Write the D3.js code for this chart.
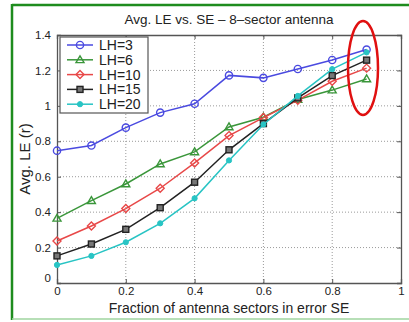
<!DOCTYPE html>
<html>
<head>
<meta charset="utf-8">
<script src="https://cdn.jsdelivr.net/npm/d3@7"></script>
<style>
  html, body { margin: 0; padding: 0; background: #fff; }
  svg { display: block; }
  text { font-family: "Liberation Sans", Arial, sans-serif; fill: #222; }
</style>
</head>
<body>
<svg id="chart" width="409" height="322"></svg>
<script>
// Fraction of antenna sectors in error (x) and average LE per handoff level
const fractions = [0, 0.1, 0.2, 0.3, 0.4, 0.5, 0.6, 0.7, 0.8, 0.9];
const lh3  = [0.747, 0.776, 0.877, 0.962, 1.012, 1.172, 1.158, 1.208, 1.259, 1.318];
const lh6  = [0.365, 0.465, 0.559, 0.672, 0.740, 0.881, 0.936, 1.036, 1.089, 1.152];
const lh10 = [0.237, 0.322, 0.420, 0.535, 0.678, 0.832, 0.934, 1.032, 1.139, 1.213];
const lh15 = [0.153, 0.220, 0.303, 0.425, 0.569, 0.752, 0.900, 1.045, 1.171, 1.258];
const lh20 = [0.102, 0.153, 0.230, 0.337, 0.478, 0.692, 0.895, 1.056, 1.207, 1.302];
const seriesNames = ["LH=3", "LH=6", "LH=10", "LH=15", "LH=20"];
const seriesValues = [lh3, lh6, lh10, lh15, lh20];
const xTicks = [0, 0.2, 0.4, 0.6, 0.8, 1];
const yTicks = [0, 0.2, 0.4, 0.6, 0.8, 1, 1.2, 1.4];

const colors  = ["#4a4ae0", "#3a963a", "#e84848", "#222222", "#28c4c4"];
const markers = ["circle", "triangle", "diamond", "square", "dot"];

const svg = d3.select("#chart");

// outer frame
svg.append("line").attr("x1", 12).attr("x2", 409).attr("y1", 5).attr("y2", 5)
  .attr("stroke", "#1e8c1e").attr("stroke-width", 2.5);
svg.append("line").attr("x1", 12).attr("x2", 12).attr("y1", 4).attr("y2", 320)
  .attr("stroke", "#1e8c1e").attr("stroke-width", 2.5);
svg.append("line").attr("x1", 12).attr("x2", 409).attr("y1", 319).attr("y2", 319)
  .attr("stroke", "#9fd49f").attr("stroke-width", 1.5);

const x = d3.scaleLinear().domain([0, 1]).range([57, 401]);
const y = d3.scaleLinear().domain([0, 1.4]).range([283, 35]);

// dotted grid
const grid = svg.append("g");
grid.selectAll("line.gx").data(xTicks.slice(1, -1)).join("line")
  .attr("x1", d => x(d)).attr("x2", d => x(d)).attr("y1", y(0)).attr("y2", y(1.4))
  .attr("stroke", "#9a9a9a").attr("stroke-width", 1).attr("stroke-dasharray", "1,2");
grid.selectAll("line.gy").data(yTicks.slice(1, -1)).join("line")
  .attr("x1", x(0)).attr("x2", x(1)).attr("y1", d => y(d)).attr("y2", d => y(d))
  .attr("stroke", "#9a9a9a").attr("stroke-width", 1).attr("stroke-dasharray", "1,2");

// axes (ticks pointing inward)
const xAxis = svg.append("g").attr("transform", `translate(0,${y(0)})`)
  .call(d3.axisBottom(x).tickValues(xTicks).tickSize(-4).tickPadding(4)
    .tickFormat(d => d3.format("~g")(d)));
const yAxis = svg.append("g").attr("transform", `translate(${x(0)},0)`)
  .call(d3.axisLeft(y).tickValues(yTicks).tickSize(-4).tickPadding(6)
    .tickFormat(d => d3.format("~g")(d)));
// mirrored ticks on top / right
svg.append("g").attr("transform", `translate(0,${y(1.4)})`)
  .call(d3.axisTop(x).tickValues(xTicks).tickSize(-4).tickFormat(""));
svg.append("g").attr("transform", `translate(${x(1)},0)`)
  .call(d3.axisRight(y).tickValues(yTicks).tickSize(-4).tickFormat(""));
svg.selectAll(".domain").attr("stroke", "#555").attr("stroke-width", 1.3);
svg.selectAll(".tick line").attr("stroke", "#555");
svg.selectAll(".tick text").attr("font-size", 11.5).attr("fill", "#333")
  .attr("font-family", "'Liberation Sans', Arial, sans-serif");
yAxis.selectAll(".tick text").filter(d => d === 0).attr("dy", "-0.1em");

// series lines and markers
const line = d3.line().x((d, i) => x(fractions[i])).y(d => y(d));

function drawMarker(g, type, cx, cy, color) {
  if (type === "circle") {
    g.append("circle").attr("cx", cx).attr("cy", cy).attr("r", 3.6)
      .attr("fill", "none").attr("stroke", color).attr("stroke-width", 1.4);
  } else if (type === "triangle") {
    const s = 4;
    g.append("path").attr("d", `M${cx},${cy - s}L${cx + s},${cy + s * 0.7}L${cx - s},${cy + s * 0.7}Z`)
      .attr("fill", "none").attr("stroke", color).attr("stroke-width", 1.4);
  } else if (type === "diamond") {
    const s = 4;
    g.append("path").attr("d", `M${cx},${cy - s}L${cx + s},${cy}L${cx},${cy + s}L${cx - s},${cy}Z`)
      .attr("fill", "none").attr("stroke", color).attr("stroke-width", 1.4);
  } else if (type === "square") {
    const s = 3;
    g.append("rect").attr("x", cx - s).attr("y", cy - s).attr("width", 2 * s).attr("height", 2 * s)
      .attr("fill", "#777").attr("stroke", color).attr("stroke-width", 1.4);
  } else {
    g.append("circle").attr("cx", cx).attr("cy", cy).attr("r", 2.6)
      .attr("fill", color).attr("stroke", color).attr("stroke-width", 1);
  }
}

const plot = svg.append("g");
seriesValues.forEach((vals, k) => {
  const g = plot.append("g");
  g.append("path").attr("d", line(vals)).attr("fill", "none")
    .attr("stroke", colors[k]).attr("stroke-width", 1.5);
  vals.forEach((v, i) => drawMarker(g, markers[k], x(fractions[i]), y(v), colors[k]));
});

// legend
const lg = svg.append("g");
lg.append("rect").attr("x", 60).attr("y", 37).attr("width", 88).attr("height", 76)
  .attr("fill", "#fff").attr("stroke", "#555").attr("stroke-width", 1.2);
seriesNames.forEach((name, k) => {
  const ly = 45 + k * 14.8;
  lg.append("line").attr("x1", 67).attr("x2", 93).attr("y1", ly).attr("y2", ly)
    .attr("stroke", colors[k]).attr("stroke-width", 1.5);
  drawMarker(lg, markers[k], 80, ly, colors[k]);
  lg.append("text").attr("x", 99).attr("y", ly + 5).attr("font-size", 14).text(name);
});

// titles
svg.append("text").attr("x", 229).attr("y", 24).attr("text-anchor", "middle")
  .attr("font-size", 13.5).text("Avg. LE vs. SE \u2013 8\u2013sector antenna");
svg.append("text").attr("x", 229).attr("y", 313).attr("text-anchor", "middle")
  .attr("font-size", 14).text("Fraction of antenna sectors in error SE");
svg.append("text").attr("transform", `translate(30,${(y(0) + y(1.4)) / 2}) rotate(-90)`)
  .attr("text-anchor", "middle").attr("font-size", 15).text("Avg. LE (r)");

// highlight ellipse around the last column
svg.append("ellipse").attr("cx", 363).attr("cy", 68).attr("rx", 15).attr("ry", 47)
  .attr("fill", "none").attr("stroke", "#e01010").attr("stroke-width", 2.5);
</script>
</body>
</html>
